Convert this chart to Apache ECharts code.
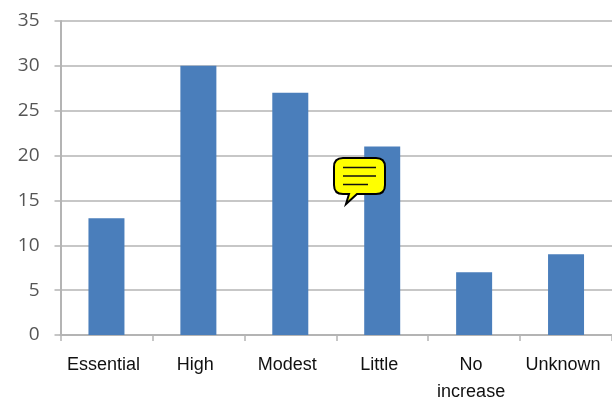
<!DOCTYPE html>
<html>
<head>
<meta charset="utf-8">
<style>html,body{margin:0;padding:0;background:#fff}#chart{width:612px;height:401px}</style>
<script src="https://cdn.jsdelivr.net/npm/echarts@6/dist/echarts.min.js"></script>
</head>
<body>
<div id="chart"></div>
<script>
const categories = ['Essential', 'High', 'Modest', 'Little', 'No\nincrease', 'Unknown'];
const counts = [13, 30, 27, 21, 7, 9];
const yTicks = { min: 0, max: 35, interval: 5 };

// Speech-bubble outline used for the note icon over the bars
echarts.graphic.registerShape('speechBubble', echarts.graphic.extendShape({
  shape: {},
  buildPath(ctx) {
    ctx.moveTo(343, 158);
    ctx.lineTo(376, 158);
    ctx.quadraticCurveTo(385, 158, 385, 167);
    ctx.lineTo(385, 185);
    ctx.quadraticCurveTo(385, 194, 376, 194);
    ctx.lineTo(357, 194);
    ctx.lineTo(346, 204);
    ctx.lineTo(349, 194);
    ctx.lineTo(343, 194);
    ctx.quadraticCurveTo(334, 194, 334, 185);
    ctx.lineTo(334, 167);
    ctx.quadraticCurveTo(334, 158, 343, 158);
    ctx.closePath();
  }
}));

const gray = '#b4b4b4';
const chart = echarts.init(document.getElementById('chart'), null, { renderer: 'canvas' });
chart.setOption({
  animation: false,
  backgroundColor: '#fff',
  grid: { left: 60.5, right: 0, top: 21, bottom: 66, outerBoundsMode: 'none' },
  xAxis: {
    type: 'category',
    data: categories,
    axisLine: { lineStyle: { color: gray, width: 2 } },
    axisTick: { show: true, alignWithLabel: false, length: 6, lineStyle: { color: gray, width: 1.5 } },
    axisLabel: { color: '#111', fontFamily: 'Liberation Sans', fontSize: 18, margin: 17, lineHeight: 27, padding: [0, 6, 0, 0], interval: 0 }
  },
  yAxis: {
    type: 'value',
    min: yTicks.min,
    max: yTicks.max,
    interval: yTicks.interval,
    axisLine: { show: true, lineStyle: { color: gray, width: 2 } },
    axisTick: { show: true, length: 6, lineStyle: { color: gray, width: 1.5 } },
    splitLine: { lineStyle: { color: gray, width: 1.5 } },
    axisLabel: { color: '#555', fontFamily: 'Open Sans', fontSize: 19, margin: 21 }
  },
  series: [{
    type: 'bar',
    data: counts,
    barWidth: 36,
    itemStyle: { color: '#4a7ebb' }
  }],
  graphic: [
    { type: 'speechBubble', z: 100, style: { fill: '#ffff00', stroke: '#000', lineWidth: 2 } },
    { type: 'line', z: 101, shape: { x1: 343, y1: 167.5, x2: 376, y2: 167.5 }, style: { stroke: '#111', lineWidth: 1.5 } },
    { type: 'line', z: 101, shape: { x1: 343, y1: 176, x2: 376, y2: 176 }, style: { stroke: '#111', lineWidth: 1.5 } },
    { type: 'line', z: 101, shape: { x1: 343, y1: 184.5, x2: 368, y2: 184.5 }, style: { stroke: '#111', lineWidth: 1.5 } }
  ]
});
</script>
</body>
</html>
